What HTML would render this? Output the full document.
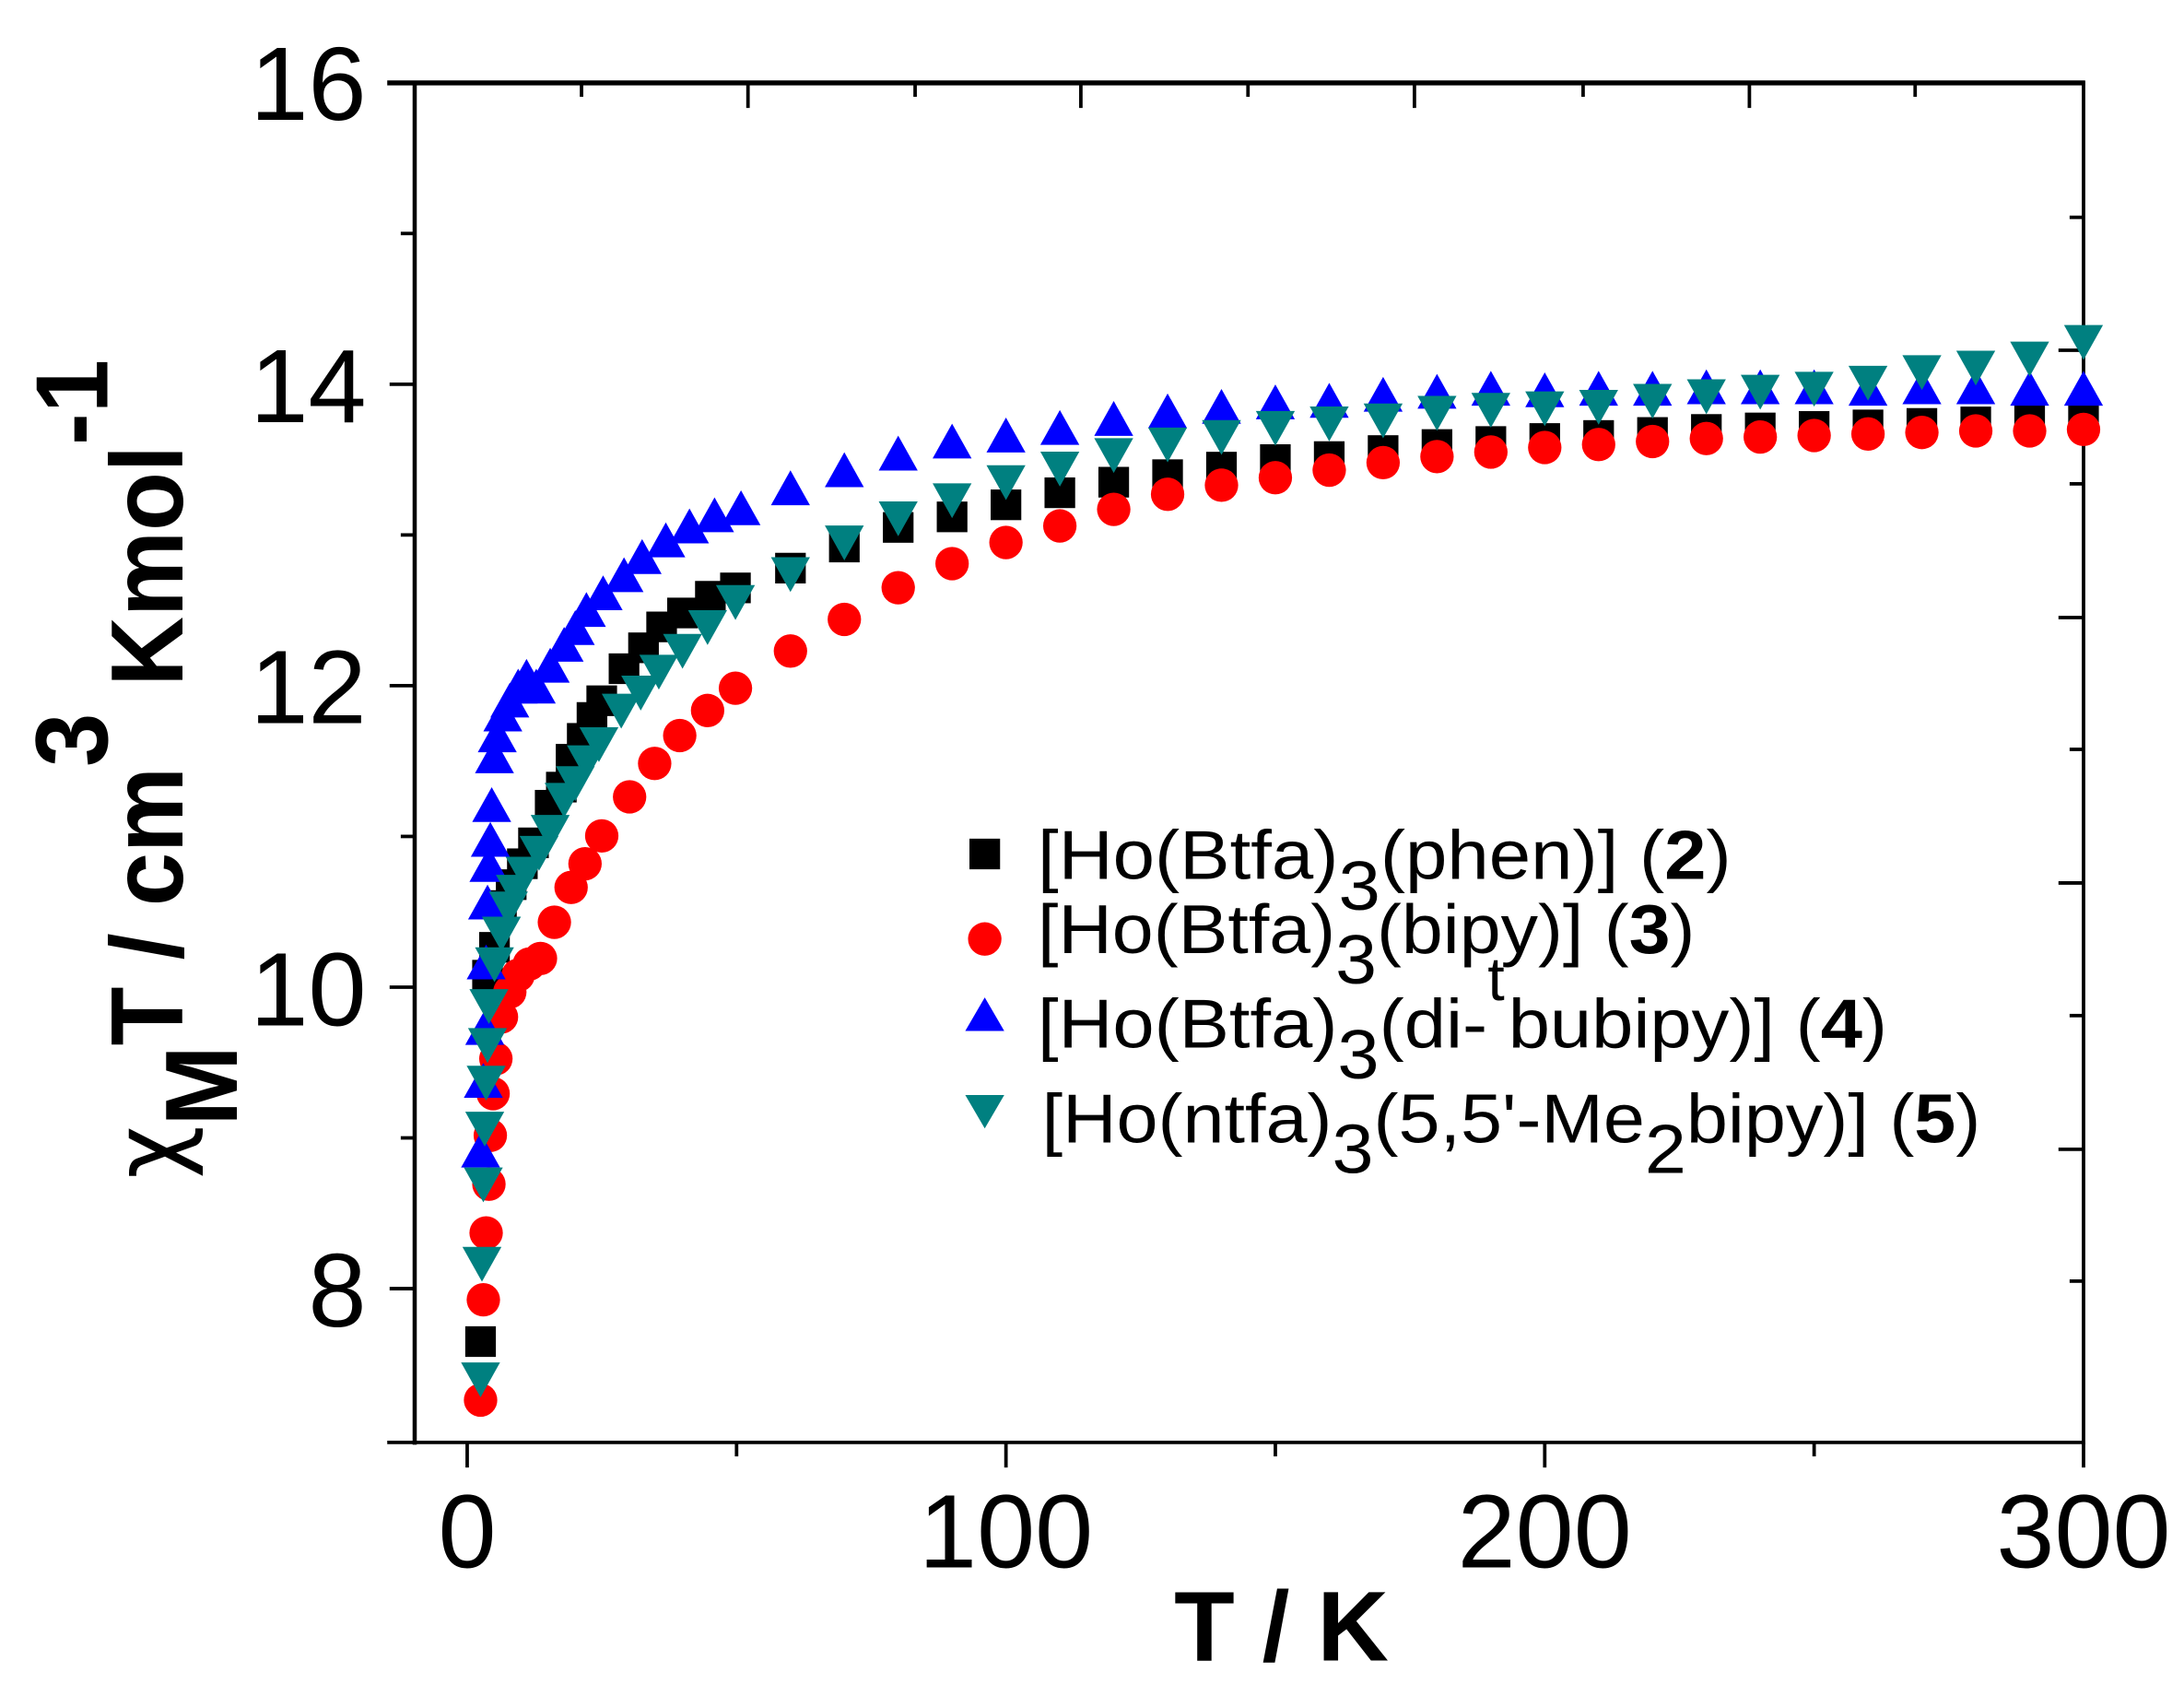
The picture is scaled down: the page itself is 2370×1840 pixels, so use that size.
<!DOCTYPE html>
<html><head><meta charset="utf-8"><style>
html,body{margin:0;padding:0;background:#fff;}
svg{display:block;}
text{font-family:"Liberation Sans",Arial,sans-serif;}
</style></head><body>
<svg id="s" width="2370" height="1840" viewBox="0 0 1568 1217.4" xmlns="http://www.w3.org/2000/svg">
<rect width="1568" height="1218" fill="#fff"/>
<g id="axes" stroke="#000" fill="none">
<line x1="278" y1="59.5" x2="1497" y2="59.5" stroke-width="3.5"/>
<line x1="297.7" y1="58" x2="297.7" y2="1037" stroke-width="3"/>
<line x1="278" y1="1035.4" x2="1497" y2="1035.4" stroke-width="2.5"/>
<line x1="1495.9" y1="58" x2="1495.9" y2="1037" stroke-width="2.5"/>
</g>
<g id="ticks" stroke="#000" stroke-width="2.5"></g>
<g id="labels" font-size="75" fill="#000">
<text x="263" y="86" text-anchor="end">16</text>
<text x="263" y="303" text-anchor="end">14</text>
<text x="263" y="519" text-anchor="end">12</text>
<text x="263" y="736" text-anchor="end">10</text>
<text x="263" y="952" text-anchor="end">8</text>
<text x="335.4" y="1125" text-anchor="middle">0</text>
<text x="722.2" y="1125" text-anchor="middle">100</text>
<text x="1109" y="1125" text-anchor="middle">200</text>
<text x="1495.9" y="1125" text-anchor="middle">300</text>
</g>
<text x="843" y="1192" font-size="71" font-weight="bold" textLength="154" lengthAdjust="spacingAndGlyphs">T / K</text>
<g transform="translate(131,846) rotate(-90)">
<text x="0" y="0" font-size="74" font-weight="bold" textLength="588" lengthAdjust="spacingAndGlyphs"><tspan font-weight="normal" font-family="DejaVu Sans,sans-serif" font-size="70">χ</tspan><tspan dy="39">M</tspan><tspan dy="-39">T / cm</tspan><tspan dy="-54">3</tspan><tspan dy="54"> Kmol</tspan><tspan dy="-54">-1</tspan></text>
</g>
<g id="data"></g>
<g id="legend" font-size="50" fill="#000">
<rect x="696" y="602" width="22" height="22" fill="#000"/>
<circle cx="707" cy="674" r="12" fill="#ff0000"/>
<polygon points="693,740 721,740 707,716" fill="#0000ff"/>
<polygon points="693,786 721,786 707,810" fill="#008080"/>
<text x="745" y="631" textLength="498" lengthAdjust="spacingAndGlyphs">[Ho(Btfa)<tspan dy="22">3</tspan><tspan dy="-22">(phen)] (</tspan><tspan font-weight="bold">2</tspan>)</text>
<text x="745" y="684" textLength="472" lengthAdjust="spacingAndGlyphs">[Ho(Btfa)<tspan dy="22">3</tspan><tspan dy="-22">(bipy)] (</tspan><tspan font-weight="bold">3</tspan>)</text>
<text x="745" y="752" textLength="610" lengthAdjust="spacingAndGlyphs">[Ho(Btfa)<tspan dy="22">3</tspan><tspan dy="-22">(di-  bubipy)] (</tspan><tspan font-weight="bold">4</tspan>)</text>
<text x="1068" y="718" font-size="44">t</text>
<text x="748" y="820" textLength="674" lengthAdjust="spacingAndGlyphs">[Ho(ntfa)<tspan dy="22">3</tspan><tspan dy="-22">(5,5'-Me</tspan><tspan dy="22">2</tspan><tspan dy="-22">bipy)] (</tspan><tspan font-weight="bold">5</tspan>)</text>
</g>
</svg>
<script>
(function(){
var NS="http://www.w3.org/2000/svg";
function el(p,n,a){var e=document.createElementNS(NS,n);for(var k in a)e.setAttribute(k,a[k]);p.appendChild(e);return e;}
var tk=document.getElementById('ticks');
function Yv(v){return 925-(v-8)*108.2;}
function Xt(t){return 335.4+t*3.8683;}
for(var v=8;v<=16;v++){var y=Yv(v);var L=(v%2==0)?18:10;el(tk,'line',{x1:297.7-L,y1:y,x2:297.7,y2:y});}
[0,50,100,150,200,250,300].forEach(function(t){var x=Xt(t);var L=(t%100==0)?18:10;el(tk,'line',{x1:x,y1:1035.4,x2:x,y2:1035.4+L});});
[[417.5,0],[537,1],[657,0],[776,1],[896,0],[1015.5,1],[1136.6,0],[1256,1],[1375,0]].forEach(function(a){el(tk,'line',{x1:a[0],y1:59.5,x2:a[0],y2:59.5+(a[1]?18:10)});});
[[156,0],[251.4,1],[347.3,0],[443.3,1],[537.9,0],[633.8,1],[729,0],[825,1],[919.6,0]].forEach(function(a){el(tk,'line',{x1:1495.9-(a[1]?18:10),y1:a[0],x2:1495.9,y2:a[0]});});

function build(low,hi){var pts=low.slice();for(var i=0;i<hi.length;i++){var t=60+10*i;pts.push([Xt(t),Yv(hi[i])]);}return pts;}
var black=build([[345,963],[350,700],[355,680],[360,650],[367,635],[375,620],[383,605],[395,578],[403,565],[410,545],[418,530],[425,515],[432,503],[448,480],[462,465],[475,450],[490,440],[510,428],[528,422]],
[12.78,12.92,13.05,13.12,13.2,13.28,13.35,13.4,13.45,13.5,13.52,13.56,13.6,13.62,13.64,13.66,13.68,13.7,13.71,13.72,13.73,13.74,13.75,13.76,13.78]);
var red=build([[345,1005],[347,933],[349,885],[351,850],[352,815],[354,785],[356,760],[360,730],[366,712],[372,700],[380,692],[388,688],[398,662],[410,637],[420,620],[432,600],[452,572],[470,548],[488,528],[508,510],[528,494]],
[12.23,12.44,12.65,12.81,12.95,13.06,13.17,13.27,13.33,13.38,13.43,13.48,13.52,13.55,13.58,13.6,13.62,13.64,13.65,13.66,13.67,13.68,13.69,13.69,13.70]);
var blue=build([[345,828],[347,778],[348,740],[349,693],[350,650],[351,623],[352,605],[353,580],[355,545],[357,530],[361,515],[366,505],[372,495],[378,488],[385,495],[395,480],[405,465],[413,453],[421,440],[433,428],[448,415],[461,402],[478,390],[495,380],[513,372],[532,367]],
[13.29,13.41,13.52,13.6,13.64,13.69,13.75,13.8,13.83,13.86,13.87,13.91,13.93,13.95,13.94,13.95,13.95,13.96,13.96,13.96,13.95,13.96,13.96,13.95,13.95]);
var teal=build([[345,988],[346,905],[347,848],[348,808],[349,775],[350,748],[351,720],[355,690],[360,668],[365,650],[370,638],[377,625],[387,610],[395,595],[405,572],[413,560],[421,545],[430,532],[446,508],[460,495],[473,480],[490,465],[508,448],[528,430]],
[12.76,12.97,13.13,13.25,13.37,13.46,13.55,13.62,13.67,13.73,13.76,13.78,13.83,13.85,13.86,13.87,13.91,13.94,13.97,13.99,14.03,14.1,14.13,14.19,14.3]);
var g=document.getElementById('data');
black.forEach(function(p){el(g,'rect',{x:p[0]-11,y:p[1]-11,width:22,height:22,fill:'#000'});});
red.forEach(function(p){el(g,'circle',{cx:p[0],cy:p[1],r:12,fill:'#ff0000'});});
blue.forEach(function(p){el(g,'polygon',{points:(p[0]-14)+','+(p[1]+10)+' '+(p[0]+14)+','+(p[1]+10)+' '+p[0]+','+(p[1]-15),fill:'#0000ff'});});
teal.forEach(function(p){el(g,'polygon',{points:(p[0]-14)+','+(p[1]-10)+' '+(p[0]+14)+','+(p[1]-10)+' '+p[0]+','+(p[1]+15),fill:'#008080'});});
})();
</script>
</body></html>
